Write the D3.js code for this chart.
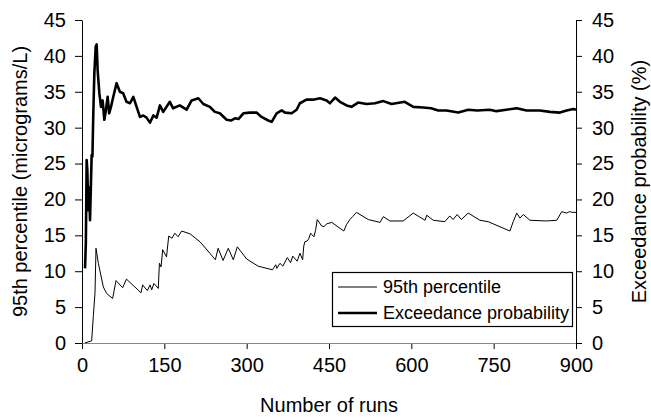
<!DOCTYPE html>
<html><head><meta charset="utf-8">
<script src="https://cdn.jsdelivr.net/npm/d3@7"></script>
<style>
body{margin:0;background:#fff;}
text{font-family:"Liberation Sans",Arial,sans-serif;fill:#000;}
</style></head>
<body><div id="chart"></div>
<script>
// X ticks
const xTicks = [0,150,300,450,600,750,900];
const yTicks = [0,5,10,15,20,25,30,35,40,45];
// 95th percentile series: [run, value]
const percentileRuns = [5,17.6,20.6,23.7,25.5,29.8,38.9,45,55.8,62,74,81,107.5,110.5,119,124,127,131,139,141,144,147,154,158,164,169,175,181.6,197,215,233,243,248,257,266.5,275.6,283,300,321,347,353,355,360.7,366,374,380,384,392,397,402,404,406,410,413,416.5,422.5,425.5,428.6,436.6,441,445.7,455,477,482,488,493,500,521.5,543,549,561,585,603.5,625,628,640,661,670,676,683.6,691,703.6,725,740,779.6,785.6,792,798,804,816,846,865,874,883,888,894,900];
const percentileValues = [0,0.3,3.7,7.0,13.2,11.1,7.8,6.9,6.2,8.7,7.7,8.9,7.0,8.1,7.3,8.1,7.4,8.3,7.6,11.1,10.6,13.0,12.0,14.9,14.6,15.3,14.8,15.6,15.2,14.1,12.5,11.6,13.2,11.5,13.2,11.6,13.4,11.7,10.7,10.2,10.9,10.4,11.1,10.7,11.9,11.2,12.1,11.4,12.5,11.6,13.5,14.1,14.2,14.5,15.3,14.8,15.7,17.2,16.3,16.2,16.6,16.8,15.6,16.5,17.2,17.6,18.2,17.2,16.8,17.6,17.0,17.0,18.1,17.1,17.8,17.1,16.9,17.7,17.2,17.9,17.2,18.1,17.1,16.9,15.6,16.9,18.1,17.4,17.9,17.1,17.0,17.1,18.3,18.1,18.3,18.2,18.2];
// Exceedance probability series: [run, value]
const exceedRuns = [5.5,7,8.5,9.7,11.5,13,14.6,16,17.6,19,20.6,22.5,25,26.7,28.5,31.6,34.6,37.6,40.7,43.5,46.7,49.5,52.8,57,63,69,75,81,87.5,93.5,99.5,105.6,111.6,117.6,123.8,130,136,142,148,160,166,178,190.6,199.7,212,221,233,242,251,263.5,272,278.7,285,294,306,318,327,339.4,345.6,354.6,363.7,370,382,391,397,409,421,433.5,445.7,451.8,461,470,482,491,503,518.6,533.7,549,564,588,603.5,621.6,636,649,664,685.6,703.6,720,743,755,773,792,810,834,852.5,870.7,883,895,900];
const exceedValues = [10.4,13.9,25.5,24.1,18.5,21.7,17.1,21.3,26.2,26.0,32.0,37.6,41.3,41.6,38.0,34.8,32.9,33.8,31.1,32.4,34.3,32.0,32.9,34.3,36.2,35.0,34.8,33.6,33.4,34.3,32.9,31.5,31.7,31.4,30.7,31.7,31.4,33.1,32.2,33.6,32.7,33.1,32.5,33.8,34.1,33.3,32.9,32.2,32.0,31.1,31.0,31.3,31.2,32.0,32.1,32.1,31.5,31.0,30.8,32.0,32.4,32.1,32.0,32.5,33.4,33.9,33.9,34.1,33.8,33.4,34.2,33.6,33.1,32.9,33.5,33.3,33.4,33.7,33.3,33.6,32.9,32.8,32.7,32.4,32.4,32.1,32.5,32.4,32.5,32.3,32.5,32.7,32.4,32.4,32.2,32.1,32.4,32.6,32.5];
const legendLabels = ["95th percentile","Exceedance probability"];

const W=651,H=419;
const m={left:82,right:576,top:20,bottom:343};
const svg=d3.select("#chart").append("svg").attr("width",W).attr("height",H);
const x=d3.scaleLinear().domain([0,900]).range([m.left,m.right]);
const y=d3.scaleLinear().domain([0,45]).range([m.bottom,m.top]);
const fs=20;

// x axis
const gx=svg.append("g").attr("transform",`translate(0,${m.bottom})`)
  .call(d3.axisBottom(x).tickValues(xTicks).tickSize(6).tickSizeOuter(0).tickPadding(9));
gx.select(".domain").remove();
svg.append("line").attr("x1",m.left-7).attr("x2",m.right+6).attr("y1",m.bottom+0.5).attr("y2",m.bottom+0.5).attr("stroke","#888");
gx.selectAll("text").style("font-size",fs+"px");
// left axis
const gl=svg.append("g").attr("transform",`translate(${m.left},0)`)
  .call(d3.axisLeft(y).tickValues(yTicks).tickSize(7).tickSizeOuter(0).tickPadding(9));
gl.selectAll("text").style("font-size",fs+"px");
// right axis
const gr=svg.append("g").attr("transform",`translate(${m.right},0)`)
  .call(d3.axisRight(y).tickValues(yTicks).tickSize(6).tickSizeOuter(0).tickPadding(10));
gr.selectAll("text").style("font-size",fs+"px");
svg.selectAll(".domain,.tick line").attr("stroke","#000");

// lines
const line=d3.line().x(d=>x(d[0])).y(d=>y(d[1]));
const pData=percentileRuns.map((r,i)=>[r,percentileValues[i]]);
const eData=exceedRuns.map((r,i)=>[r,exceedValues[i]]);
svg.append("path").datum(pData).attr("d",line).attr("fill","none").attr("stroke","#000").attr("stroke-width",1);
svg.append("path").datum(eData).attr("d",line).attr("fill","none").attr("stroke","#000").attr("stroke-width",2.6).attr("stroke-linejoin","round");

// axis titles
svg.append("text").attr("transform",`translate(${(m.left+m.right)/2},${H-7})`).attr("text-anchor","middle").style("font-size",fs+"px").text("Number of runs");
svg.append("text").attr("transform",`translate(27,${(m.top+m.bottom)/2}) rotate(-90)`).attr("text-anchor","middle").style("font-size",fs+"px").text("95th percentile (micrograms/L)");
svg.append("text").attr("transform",`translate(${W-5},${(m.top+m.bottom)/2}) rotate(-90)`).attr("text-anchor","middle").style("font-size",fs+"px").text("Exceedance probability (%)");

// legend
const lg=svg.append("g");
lg.append("rect").attr("x",332.5).attr("y",272.5).attr("width",240).attr("height",54).attr("fill","#fff").attr("stroke","#000").attr("stroke-width",1.2);
[1,2.6].forEach((sw,i)=>{
  const yy=287+i*26;
  lg.append("line").attr("x1",338).attr("x2",377).attr("y1",yy).attr("y2",yy).attr("stroke","#000").attr("stroke-width",sw);
  lg.append("text").attr("x",383).attr("y",yy).attr("dy","0.35em").style("font-size","18px").text(legendLabels[i]);
});
</script></body></html>
